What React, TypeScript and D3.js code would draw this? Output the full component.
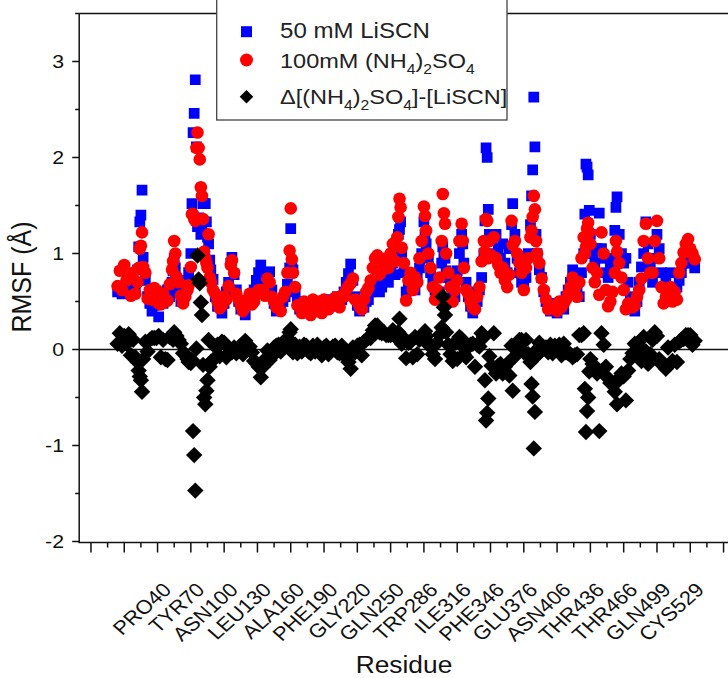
import React from "react";
import * as d3 from "d3";

// residue index (position along the sequence) and RMSF values (Å)
const residueIndex = [
  -6,-4,-2,0,2,4,6,8,10,12,
  13,14,15,16,17,19,21,23,25,27,
  29,31,33,35,37,39,41,43,44,45,
  46,47,49,51,53,55,57,58,60,61,
  62,63,64,65,66,67,68,69,70,71,
  72,73,74,75,76,77,78,80,82,84,
  86,88,90,92,94,96,97,99,101,103,
  105,107,109,111,113,115,117,119,121,123,
  125,127,129,131,133,135,137,139,141,143,
  145,147,149,150,151,152,154,156,158,160,
  162,164,166,168,170,172,174,176,178,180,
  182,184,186,188,190,192,194,196,198,200,
  202,204,206,208,210,212,214,216,218,220,
  222,224,226,228,230,232,234,236,238,240,
  242,244,246,247,248,249,250,252,254,256,
  258,260,262,264,266,268,270,271,272,274,
  276,278,280,282,284,286,287,288,289,290,
  292,294,296,298,300,302,304,305,306,308,
  310,312,314,316,318,320,322,324,325,326,
  327,328,329,331,333,335,337,339,341,343,
  345,347,349,350,352,354,356,358,360,362,
  364,366,367,368,369,370,371,372,374,376,
  378,380,382,384,386,388,390,392,394,396,
  398,400,402,404,406,408,410,412,414,415,
  416,417,418,419,420,422,424,426,428,430,
  432,434,436,438,440,442,443,444,446,448,
  450,452,454,456,458,460,462,464,466,468,
  470,472,474,476,478,480,482,484,486,488,
  490,492,494,496,498,500,502,504,506,508,
  510,512,514,
];

const rmsfLiSCN = [
  .60,.64,.58,.63,.67,.60,.62,.70,.66,.83,
  1.07,1.33,1.40,1.66,.96,.72,.55,.48,.40,.46,
  .50,.34,.55,.48,.60,.62,.55,.70,.82,.95,
  .85,.62,.60,.50,.52,.60,.72,.80,1.00,1.52,
  2.26,2.46,2.81,2.11,1.28,1.37,1.29,1.20,1.24,1.52,
  1.52,1.52,1.33,1.17,1.10,.93,.83,.73,.55,.45,
  .50,.38,.48,.60,.70,.90,.96,.78,.62,.50,
  .42,.45,.36,.48,.55,.50,.62,.72,.80,.88,
  .80,.66,.75,.81,.62,.48,.40,.45,.42,.50,
  .55,.68,.85,1.26,.90,.83,.60,.50,.42,.40,
  .45,.38,.46,.40,.48,.42,.40,.48,.44,.50,
  .42,.47,.52,.45,.50,.55,.48,.52,.60,.70,
  .79,.89,.72,.55,.46,.40,.48,.44,.50,.52,
  .60,.65,.70,.73,.60,.65,.72,.80,.70,.85,
  .90,.78,1.05,1.20,1.25,1.33,1.00,.80,.60,.65,
  .72,.70,.62,.75,.85,1.00,1.33,1.20,1.10,.95,
  .80,.70,.62,.55,.60,.90,1.07,.98,.95,.82,
  .75,.70,.62,.55,.82,1.00,1.20,1.10,.90,.70,
  .55,.45,.38,.60,.50,.62,.75,1.00,1.34,2.10,
  2.00,1.46,1.20,1.15,1.00,1.20,1.05,.95,1.10,.90,
  .80,1.05,1.30,1.52,1.20,.95,.80,.70,.65,.75,
  1.00,1.30,1.60,1.87,2.63,2.11,1.20,1.00,.83,.75,
  .60,.50,.45,.40,.48,.42,.38,.45,.50,.42,
  .55,.62,.70,.83,.70,.60,.55,.80,1.00,1.41,
  1.93,1.90,1.82,1.45,1.20,1.00,.90,1.05,1.42,1.05,
  .95,.80,.75,.85,.95,1.24,1.48,1.59,1.20,1.00,
  .90,.95,.70,.55,.48,.40,.50,.70,.86,1.00,
  1.33,1.10,.85,.70,.95,1.20,1.05,.80,.65,.75,
  .60,.80,.62,.55,.65,.72,.80,.90,.95,1.00,
  .90,.95,.85,
];

const rmsfNH4SO4 = [
  .66,.82,.62,.88,.72,.76,.56,.80,.58,.70,
  .85,1.05,1.08,1.22,.86,.80,.53,.62,.52,.64,
  .62,.48,.47,.58,.50,.51,.68,.83,.92,1.13,
  1.00,.76,.70,.56,.48,.55,.62,.67,.86,1.41,
  1.41,1.36,1.34,2.10,2.26,2.10,1.98,1.69,1.60,1.36,
  1.02,.95,.90,.85,1.20,.75,.70,.62,.58,.50,
  .43,.46,.55,.52,.66,.88,.93,.80,.58,.52,
  .46,.40,.45,.52,.58,.47,.50,.58,.62,.59,
  .62,.56,.74,.70,.55,.50,.44,.50,.40,.55,
  .60,.80,1.03,1.47,.94,.80,.65,.46,.45,.38,
  .50,.42,.44,.36,.52,.40,.45,.50,.38,.52,
  .46,.42,.50,.48,.54,.52,.44,.56,.55,.62,
  .66,.69,.74,.52,.50,.45,.42,.52,.60,.64,
  .72,.85,.95,.98,.78,.82,.90,.95,.85,1.00,
  1.10,.92,1.17,1.38,1.57,1.48,1.06,.90,.51,.72,
  .80,.62,.75,.70,.95,1.13,1.49,1.39,1.24,1.00,
  .85,.65,.52,.62,.75,1.13,1.62,1.42,1.31,1.00,
  .80,.65,.50,.62,.72,1.13,1.31,1.13,.85,.62,
  .58,.50,.44,.42,.55,.65,.92,1.13,1.02,1.36,
  1.34,.95,1.13,.98,1.17,.95,.88,.80,.85,.72,
  .65,.78,1.34,1.09,1.13,1.00,.90,.80,.62,.85,
  .95,1.17,1.24,1.38,1.60,1.46,1.13,1.00,.90,.74,
  .62,.52,.42,.45,.44,.46,.40,.50,.44,.48,
  .52,.58,.65,.75,.64,.55,.70,.95,1.17,1.00,
  1.07,1.26,1.32,1.22,1.10,.85,.70,.80,.57,1.22,
  1.00,.62,.45,.50,.60,.80,1.13,1.02,.90,.75,
  .62,.42,.48,.45,.44,.46,.55,.62,.74,1.13,
  1.31,.95,.80,.80,1.13,1.34,.95,.65,.48,.55,
  .62,.65,.50,.60,.52,.80,.90,1.01,1.10,1.15,
  1.05,1.00,.94,
];

const rmsfDelta = [
  .06,.17,.04,.14,.06,.16,-.06,.10,-.08,-.13,
  -.22,-.28,-.32,-.44,-.10,.08,-.02,.10,.12,.12,
  .12,.14,-.08,.10,-.10,-.11,.13,.13,.10,.18,
  .15,.14,.10,.06,-.04,-.05,-.10,-.13,-.14,-.11,
  -.85,-1.10,-1.47,.01,.98,.73,.69,.49,.36,-.16,
  -.50,-.57,-.43,-.32,.10,-.18,-.13,-.11,.03,.05,
  -.07,.08,.07,-.08,-.04,-.02,-.03,.02,-.04,.02,
  .04,-.05,.09,.04,.03,-.03,-.12,-.14,-.18,-.29,
  -.18,-.10,-.01,-.11,-.07,.02,.04,.05,-.02,.05,
  .05,.12,.18,.21,.04,-.03,.05,-.04,.03,-.02,
  .05,.04,-.02,-.04,.04,-.02,.05,.02,-.06,.02,
  .04,-.05,-.02,.03,.04,-.03,-.04,.04,-.05,-.08,
  -.13,-.20,.02,-.03,.04,.05,-.06,.08,.10,.12,
  .12,.20,.25,.25,.18,.17,.18,.15,.15,.15,
  .20,.14,.12,.18,.32,.15,.06,.10,-.09,.07,
  .08,-.08,.13,-.05,.10,.13,.16,.19,.14,.05,
  .05,-.05,-.10,.07,.15,.23,.55,.44,.36,.18,
  .05,-.05,-.12,.07,-.10,.13,.11,.03,-.05,-.08,
  .03,.05,.06,-.18,.05,.03,.17,.13,-.32,-.74,
  -.66,-.51,-.07,-.17,.17,-.25,-.17,-.15,-.25,-.18,
  -.15,-.27,.04,-.43,-.07,.05,.10,.10,-.03,.10,
  -.05,-.13,-.36,-.49,-1.03,-.65,-.07,.00,.07,-.01,
  .02,.02,-.03,.05,-.04,.04,.02,.05,-.06,.06,
  -.03,-.04,-.05,-.08,-.06,-.05,.15,.15,.17,-.41,
  -.86,-.64,-.50,-.23,-.10,-.15,-.20,-.25,-.85,.17,
  .05,-.18,-.30,-.35,-.35,-.44,-.35,-.57,-.30,-.25,
  -.28,-.53,-.22,-.10,-.04,.06,.05,-.08,-.12,.13,
  -.02,-.15,-.05,.10,.18,.14,-.10,-.15,-.17,-.20,
  .02,-.15,-.12,.05,-.13,.08,.10,.11,.15,.15,
  .15,.05,.09,
];

const tickResidueLabels = [
  "PRO40","TYR70","ASN100","LEU130","ALA160","PHE190","GLY220","GLN250",
  "TRP286","ILE316","PHE346","GLU376","ASN406","THR436","THR466","GLN499","CYS529",
];
const tickResidueIndex = [40,70,100,130,160,190,220,250,280,310,340,370,400,430,460,490,520];
const yTickValues = [-2,-1,0,1,2,3];
const yMinorTickValues = [-1.5,-0.5,0.5,1.5,2.5,3.5];

const FONT = "'Liberation Sans', Arial, Helvetica, sans-serif";
const SX = 1.12;

export default function App() {
  const W = 728, H = 678;
  const left = 79.2, right = 728, top = 13.5, bottom = 541.5;
  const x = d3.scaleLinear().domain([-40.6, 544]).range([left, right]);
  const y = d3.scaleLinear().domain([-2, 3.5]).range([bottom, top]);

  const xMajor = d3.range(-30, 541, 30);
  const xMinor = d3.range(-15, 541, 30);

  const squarePath = d3.symbol().type(d3.symbolSquare).size(115)() as string;
  const diamondPath = d3.symbol().type(d3.symbolSquare).size(135)() as string;
  const legendSquare = d3.symbol().type(d3.symbolSquare).size(121)() as string;
  const legendDiamond = d3.symbol().type(d3.symbolSquare).size(92)() as string;

  const axisColor = "#111";

  return (
    <svg width={W} height={H} style={{ position: "absolute", left: 0, top: 0, background: "#fff" }}
      fontFamily={FONT}>
      <defs>
        <clipPath id="plotclip">
          <rect x={left} y={top} width={right - left} height={bottom - top} />
        </clipPath>
      </defs>

      {/* frame */}
      <line x1={left} x2={W} y1={top} y2={top} stroke={axisColor} strokeWidth={1.5} />
      <line x1={left} x2={left} y1={top} y2={bottom + 1} stroke={axisColor} strokeWidth={1.5} />
      <line x1={left - 0.75} x2={W} y1={bottom + 1} y2={bottom + 1} stroke={axisColor} strokeWidth={1.5} />
      {/* zero line */}
      <line x1={left} x2={W} y1={y(0)} y2={y(0)} stroke={axisColor} strokeWidth={1.3} />

      {/* y ticks */}
      {yTickValues.map((v) => (
        <g key={"yt" + v}>
          <line x1={left - 7} x2={left} y1={y(v)} y2={y(v)} stroke={axisColor} strokeWidth={1.5} />
          <g transform={`translate(64,${y(v) + 6.8}) scale(${SX},1)`}>
            <text x={0} y={0} textAnchor="end" fontSize={19} fill="#111">{v}</text>
          </g>
        </g>
      ))}
      {yMinorTickValues.map((v) => (
        <line key={"ym" + v} x1={left - 4} x2={left} y1={y(v)} y2={y(v)} stroke={axisColor} strokeWidth={1.5} />
      ))}

      {/* x ticks */}
      {xMajor.map((v) => (
        <line key={"xt" + v} x1={x(v)} x2={x(v)} y1={bottom + 1} y2={bottom + 11} stroke={axisColor} strokeWidth={1.5} />
      ))}
      {xMinor.map((v) => (
        <line key={"xm" + v} x1={x(v)} x2={x(v)} y1={bottom + 1} y2={bottom + 6} stroke={axisColor} strokeWidth={1.5} />
      ))}
      {tickResidueLabels.map((lab, i) => (
        <g key={lab} transform={`translate(${x(tickResidueIndex[i]) + 4},591) scale(${SX},1) rotate(-45)`}>
          <text x={0} y={0} textAnchor="end" fontSize={19.5} fill="#111">{lab}</text>
        </g>
      ))}

      {/* axis titles */}
      <g transform={`translate(404,673) scale(${SX},1)`}>
        <text x={0} y={0} textAnchor="middle" fontSize={23.5} fill="#111">Residue</text>
      </g>
      <g transform={`translate(31,277) scale(${SX},1) rotate(-90)`}>
        <text x={0} y={0} textAnchor="middle" fontSize={25} fill="#111">RMSF (Å)</text>
      </g>

      {/* data */}
      <g clipPath="url(#plotclip)">
        {residueIndex.map((r, i) => (
          <path key={"b" + i} d={squarePath} transform={`translate(${x(r)},${y(rmsfLiSCN[i])})`} fill="#0000ff" />
        ))}
        {residueIndex.map((r, i) => (
          <circle key={"r" + i} cx={x(r)} cy={y(rmsfNH4SO4[i])} r={6.3} fill="#ff0000" />
        ))}
        {residueIndex.map((r, i) => (
          <path key={"d" + i} d={diamondPath} transform={`translate(${x(r)},${y(rmsfDelta[i])}) rotate(45)`} fill="#000" />
        ))}
      </g>

      {/* legend */}
      <rect x={216.7} y={-2} width={290.3} height={122} fill="#fff" stroke="#444" strokeWidth={1.3} />
      <path d={legendSquare} transform="translate(246.5,31.7)" fill="#0000ff" />
      <circle cx={246.5} cy={60} r={6.5} fill="#ff0000" />
      <path d={legendDiamond} transform="translate(246.5,96.7) rotate(45)" fill="#000" />
      <g transform={`translate(280,38.3) scale(${SX},1)`}>
        <text x={0} y={0} fontSize={21.5} fill="#222">50 mM LiSCN</text>
      </g>
      <g transform={`translate(280,67.5) scale(${SX},1)`}>
        <text x={0} y={0} fontSize={21} fill="#222">
          100mM (NH<tspan fontSize={14} dy={6}>4</tspan><tspan dy={-6}>)</tspan><tspan fontSize={14} dy={6}>2</tspan><tspan dy={-6}>SO</tspan><tspan fontSize={14} dy={6}>4</tspan>
        </text>
      </g>
      <g transform={`translate(280,104) scale(${SX},1)`}>
        <text x={0} y={0} fontSize={21} fill="#222">
          Δ[(NH<tspan fontSize={14} dy={6}>4</tspan><tspan dy={-6}>)</tspan><tspan fontSize={14} dy={6}>2</tspan><tspan dy={-6}>SO</tspan><tspan fontSize={14} dy={6}>4</tspan><tspan dy={-6}>]-[LiSCN]</tspan>
        </text>
      </g>
    </svg>
  );
}
